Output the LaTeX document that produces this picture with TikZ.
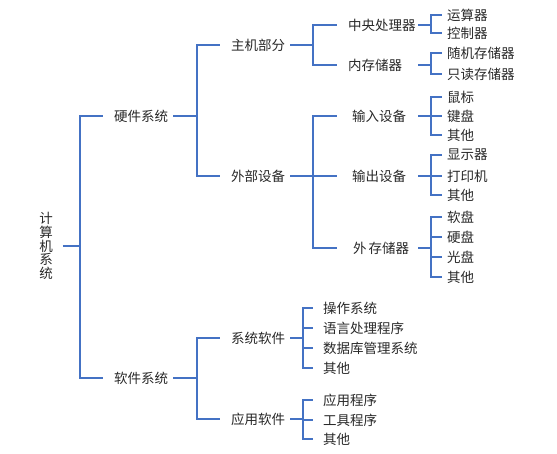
\documentclass[tikz,border=0pt]{standalone}
\usepackage{fontspec}
\setmainfont{Noto Sans CJK SC}
\definecolor{linkblue}{RGB}{68,114,196}
\definecolor{textgray}{RGB}{40,40,40}

\begin{document}
\begin{tikzpicture}[x=1pt,y=-1pt]

\tikzset{
  tree node/.style={
    anchor=west,
    inner sep=0pt,
    outer sep=0pt,
    text=textgray,
    font=\fontsize{13.5}{13.6}\selectfont,
  },
  link/.style={
    draw=linkblue,
    line width=1.1pt,
  }
}

\useasboundingbox (0,0) rectangle (557,454);

% Root (vertical text)
\node[tree node, anchor=center, align=center] (root) at (46,246) {计\\算\\机\\系\\统};

% Level 1
\node[tree node] (hw) at (114,116) {硬件系统};
\node[tree node] (sw) at (114,378) {软件系统};

% Level 2
\node[tree node] (host) at (231,45)  {主机部分};
\node[tree node] (ext)  at (231,176) {外部设备};
\node[tree node] (sys)  at (231,338) {系统软件};
\node[tree node] (app)  at (231,419) {应用软件};

% Level 3 (hardware)
\node[tree node] (cpu) at (348,25)  {中央处理器};
\node[tree node] (mem) at (348,65)  {内存储器};
\node[tree node] (in)  at (352,116) {输入设备};
\node[tree node] (out) at (352,176) {输出设备};
\node[tree node] (sto) at (353,248) {外\,存储器};

% Leaves (hardware)
\node[tree node] (alu)  at (447,15)  {运算器};
\node[tree node] (ctl)  at (447,33)  {控制器};
\node[tree node] (ram)  at (447,53)  {随机存储器};
\node[tree node] (rom)  at (447,74)  {只读存储器};
\node[tree node] (mouse) at (447,97) {鼠标};
\node[tree node] (kbd)  at (447,116) {键盘};
\node[tree node] (inx)  at (447,135) {其他};
\node[tree node] (disp) at (447,155) {显示器};
\node[tree node] (prn)  at (447,176) {打印机};
\node[tree node] (outx) at (447,195) {其他};
\node[tree node] (fd)   at (447,217) {软盘};
\node[tree node] (hd)   at (447,237) {硬盘};
\node[tree node] (cd)   at (447,257) {光盘};
\node[tree node] (stox) at (447,277) {其他};

% Leaves (software)
\node[tree node] (os)   at (323,308) {操作系统};
\node[tree node] (lang) at (323,328) {语言处理程序};
\node[tree node] (db)   at (323,348) {数据库管理系统};
\node[tree node] (sysx) at (323,368) {其他};
\node[tree node] (prog) at (323,400) {应用程序};
\node[tree node] (tool) at (323,420) {工具程序};
\node[tree node] (appx) at (323,439) {其他};

% Edges: root
\draw[link] ([xshift=10pt]root.east) -- (80,0 |- root) |- ([xshift=-11pt]hw.west);
\draw[link] ([xshift=10pt]root.east) -- (80,0 |- root) |- ([xshift=-11pt]sw.west);

% Edges: level 1
\draw[link] ([xshift=5pt]hw.east) -- (197,0 |- hw) |- ([xshift=-11pt]host.west);
\draw[link] ([xshift=5pt]hw.east) -- (197,0 |- hw) |- ([xshift=-11pt]ext.west);
\draw[link] ([xshift=5pt]sw.east) -- (197,0 |- sw) |- ([xshift=-11pt]sys.west);
\draw[link] ([xshift=5pt]sw.east) -- (197,0 |- sw) |- ([xshift=-11pt]app.west);

% Edges: level 2
\draw[link] ([xshift=5pt]host.east) -- (313,0 |- host) |- (337,0 |- cpu);
\draw[link] ([xshift=5pt]host.east) -- (313,0 |- host) |- (337,0 |- mem);
\draw[link] ([xshift=5pt]ext.east) -- (313,0 |- ext) |- (337,0 |- in);
\draw[link] ([xshift=5pt]ext.east) -- (313,0 |- ext) |- (337,0 |- out);
\draw[link] ([xshift=5pt]ext.east) -- (313,0 |- ext) |- (337,0 |- sto);
\draw[link] ([xshift=5pt]sys.east) -- (303,0 |- sys) |- ([xshift=-10pt]os.west);
\draw[link] ([xshift=5pt]sys.east) -- (303,0 |- sys) |- ([xshift=-10pt]lang.west);
\draw[link] ([xshift=5pt]sys.east) -- (303,0 |- sys) |- ([xshift=-10pt]db.west);
\draw[link] ([xshift=5pt]sys.east) -- (303,0 |- sys) |- ([xshift=-10pt]sysx.west);
\draw[link] ([xshift=5pt]app.east) -- (303,0 |- app) |- ([xshift=-10pt]prog.west);
\draw[link] ([xshift=5pt]app.east) -- (303,0 |- app) |- ([xshift=-10pt]tool.west);
\draw[link] ([xshift=5pt]app.east) -- (303,0 |- app) |- ([xshift=-10pt]appx.west);

% Edges: level 3
\draw[link] (418,0 |- cpu) -- (431,0 |- cpu) |- ([xshift=-5pt]alu.west);
\draw[link] (418,0 |- cpu) -- (431,0 |- cpu) |- ([xshift=-5pt]ctl.west);
\draw[link] (418,0 |- mem) -- (431,0 |- mem) |- ([xshift=-5pt]ram.west);
\draw[link] (418,0 |- mem) -- (431,0 |- mem) |- ([xshift=-5pt]rom.west);
\draw[link] (418,0 |- in) -- (431,0 |- in) |- ([xshift=-5pt]mouse.west);
\draw[link] (418,0 |- in) -- (431,0 |- in) |- ([xshift=-5pt]kbd.west);
\draw[link] (418,0 |- in) -- (431,0 |- in) |- ([xshift=-5pt]inx.west);
\draw[link] (418,0 |- out) -- (431,0 |- out) |- ([xshift=-5pt]disp.west);
\draw[link] (418,0 |- out) -- (431,0 |- out) |- ([xshift=-5pt]prn.west);
\draw[link] (418,0 |- out) -- (431,0 |- out) |- ([xshift=-5pt]outx.west);
\draw[link] (418,0 |- sto) -- (431,0 |- sto) |- ([xshift=-5pt]fd.west);
\draw[link] (418,0 |- sto) -- (431,0 |- sto) |- ([xshift=-5pt]hd.west);
\draw[link] (418,0 |- sto) -- (431,0 |- sto) |- ([xshift=-5pt]cd.west);
\draw[link] (418,0 |- sto) -- (431,0 |- sto) |- ([xshift=-5pt]stox.west);

\end{tikzpicture}
\end{document}
